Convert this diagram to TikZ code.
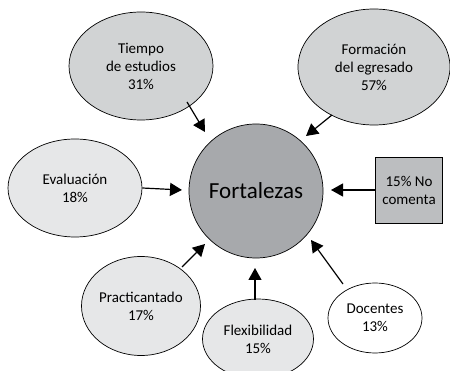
\documentclass[tikz,border=0pt]{standalone}
\usepackage{fontspec}
\setmainfont{Carlito}
\usetikzlibrary{shapes.geometric,arrows.meta}
\definecolor{cdark}{HTML}{A7A9AC}
\definecolor{cbox}{HTML}{BCBEC0}
\definecolor{cmid}{HTML}{D1D3D4}
\definecolor{clight}{HTML}{E6E7E8}
\tikzset{
  ell/.style={ellipse,draw=black,line width=0.7pt,inner sep=0pt,align=center,font=\fontsize{15}{18}\selectfont},
  arr/.style={line width=1.2pt,-{Triangle[length=12pt,width=13pt]}},
}
\begin{document}
\begin{tikzpicture}[x=1pt,y=-1pt]
\useasboundingbox (0,0) rectangle (450,371);
\node[ell,fill=cmid,minimum width=144,minimum height=108] (t) at (141,66) {Tiempo\\de estudios\\31\%};
\node[ell,fill=cmid,minimum width=152,minimum height=116] (f) at (374,67) {Formación\\del egresado\\57\%};
\node[circle,draw=black,line width=0.7pt,fill=cdark,minimum size=134,inner sep=0pt,font=\fontsize{23}{26}\selectfont] (c) at (256,191) {Fortalezas};
\node[ell,fill=clight,minimum width=134,minimum height=98] (e) at (75,188) {Evaluación\\18\%};
\node[draw=black,line width=0.7pt,fill=cbox,minimum width=67,minimum height=66,inner sep=0pt,align=center,font=\fontsize{15}{18}\selectfont] (b) at (409,190) {15\% No\\comenta};
\node[ell,fill=clight,minimum width=119,minimum height=99] (p) at (141,306) {Practicantado\\17\%};
\node[ell,fill=clight,minimum width=111,minimum height=80] (x) at (258,339) {Flexibilidad\\15\%};
\node[ell,fill=white,minimum width=94,minimum height=70] (d) at (375,318) {Docentes\\13\%};
\coordinate (ta) at (205,132);
\coordinate (fa) at (306,136);
\coordinate (ea) at (182,190);
\coordinate (ba) at (331,190);
\coordinate (pa) at (205,244);
\coordinate (xa) at (255,268);
\coordinate (da) at (311,240);
\draw[arr] (187,102) -- (ta);
\draw[arr] (332,115) -- (fa);
\draw[arr] (e.east) -- (ea);
\draw[arr] (b.west) -- (ba);
\draw[arr] (182,267) -- (pa);
\draw[arr] (255,300) -- (xa);
\draw[arr] (343,284) -- (da);
\end{tikzpicture}
\end{document}
